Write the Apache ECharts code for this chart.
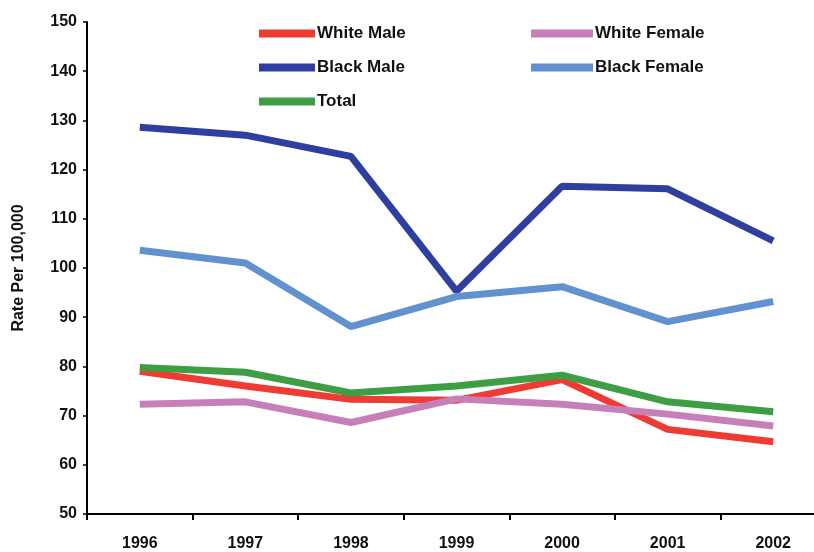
<!DOCTYPE html>
<html>
<head>
<meta charset="utf-8">
<script src="https://cdn.jsdelivr.net/npm/echarts@6/dist/echarts.min.js"></script>
<style>
  html, body { margin: 0; padding: 0; background: #fff; }
  #wrap { width: 814px; height: 552px; overflow: hidden; position: relative; }
  #chart { width: 826px; height: 552px; }
</style>
</head>
<body>
<div id="wrap"><div id="chart"></div></div>
<script>
var years = ['1996', '1997', '1998', '1999', '2000', '2001', '2002'];
var whiteMale = [79.0, 76.0, 73.3, 73.1, 77.3, 67.2, 64.7];
var whiteFemale = [72.3, 72.8, 68.6, 73.4, 72.3, 70.3, 67.9];
var blackMale = [128.6, 127.0, 122.7, 95.3, 116.6, 116.1, 105.5];
var blackFemale = [103.6, 101.0, 88.1, 94.2, 96.2, 89.1, 93.2];
var total = [79.8, 78.8, 74.6, 76.0, 78.2, 72.8, 70.8];

var font = "'Liberation Sans', Arial, sans-serif";

function line(name, color, data) {
    return {
        name: name,
        type: 'line',
        data: data,
        symbol: 'none',
        color: color,
        lineStyle: {width: 7, color: color, cap: 'butt'}
    };
}

var legendText = {fontFamily: font, fontSize: 17, fontWeight: 'bold', color: '#111', padding: [0, 0, 0, -3]};

var myChart = echarts.init(document.getElementById('chart'));
var option = {
    animation: false,
    backgroundColor: '#fff',
    textStyle: {fontFamily: font},
    legend: [
        {
            data: ['White Male', 'Black Male', 'Total'],
            orient: 'vertical',
            left: 254,
            top: 20,
            icon: 'rect',
            itemWidth: 56,
            itemHeight: 8,
            itemGap: 17,
            textStyle: legendText
        },
        {
            data: ['White Female', 'Black Female'],
            orient: 'vertical',
            left: 526,
            top: 20,
            icon: 'rect',
            itemWidth: 62,
            itemHeight: 8,
            itemGap: 17,
            textStyle: legendText
        }
    ],
    grid: {left: 87, right: 0, top: 22, bottom: 35},
    xAxis: {
        type: 'category',
        data: years,
        boundaryGap: true,
        axisLine: {lineStyle: {color: '#000', width: 2}},
        axisTick: {show: true, length: 6, lineStyle: {color: '#000', width: 2}},
        axisLabel: {color: '#111', fontSize: 16, fontWeight: 'bold', margin: 22, fontFamily: font}
    },
    yAxis: {
        type: 'value',
        min: 50,
        max: 150,
        interval: 10,
        name: 'Rate Per 100,000',
        nameLocation: 'middle',
        nameGap: 60,
        nameTextStyle: {color: '#111', fontSize: 16, fontWeight: 'bold', fontFamily: font},
        splitLine: {show: false},
        axisLine: {show: true, lineStyle: {color: '#000', width: 2}},
        axisTick: {show: true, length: 4, lineStyle: {color: '#000', width: 1.5}},
        axisLabel: {color: '#111', fontSize: 16, fontWeight: 'bold', margin: 10, fontFamily: font}
    },
    series: [
        line('Black Male', '#2f3f9f', blackMale),
        line('White Male', '#ee3b33', whiteMale),
        line('Total', '#3d9e44', total),
        line('White Female', '#c77fba', whiteFemale),
        line('Black Female', '#6291cf', blackFemale)
    ]
};
myChart.setOption(option);
</script>
</body>
</html>
